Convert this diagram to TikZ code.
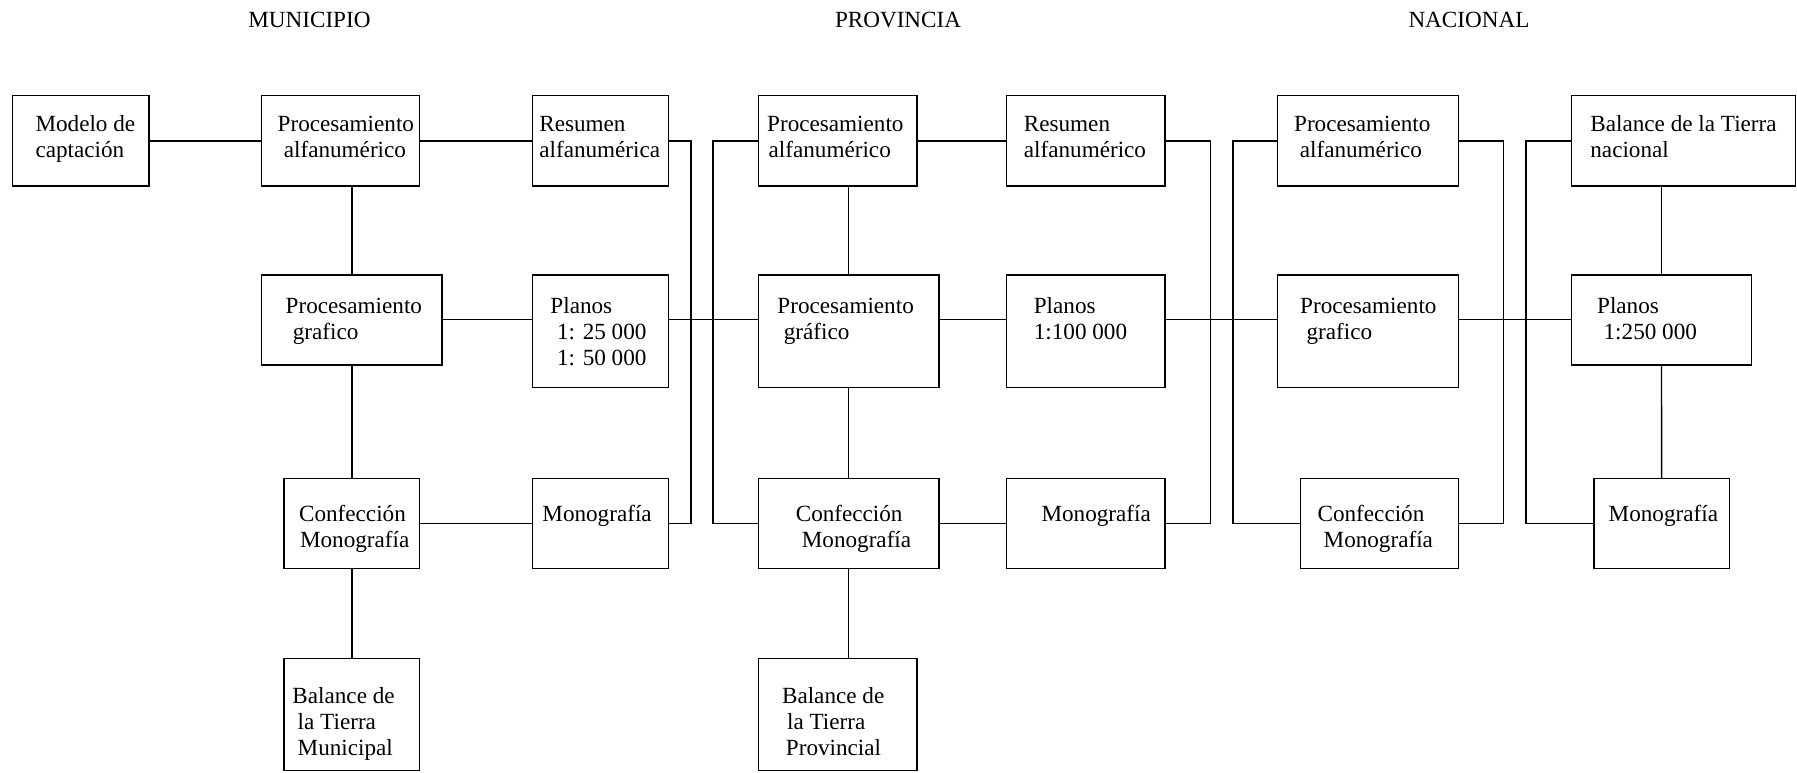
\documentclass[tikz,border=0pt]{standalone}
\usepackage{fontspec}
\setmainfont{Liberation Serif}
\newdimen\px \px=0.5669pt
\newcommand\bt[1]{\begin{tabular}[t]{@{}l@{}}#1\end{tabular}}
\newcommand\ind[1]{\hspace*{#1\px}}
\tikzset{
  box/.style={draw, line width=0.7pt, rectangle, inner sep=0pt, outer sep=0pt, anchor=north west},
  txt/.style={anchor=base west, inner sep=0pt, outer sep=0pt, font=\fontsize{11.5}{13.04}\selectfont},
  ln/.style={line width=0.7pt},
}
\newcommand\bx[5]{\node[box, minimum width={(#4-#2)*0.02cm}, minimum height={(#5-#3)*0.02cm}] (#1) at (#2,#3) {};}
\begin{document}
\begin{tikzpicture}[x=0.02cm, y=-0.02cm]
\useasboundingbox (0,0) rectangle (1568,674);
% titles
\node[txt] (tM) at (216.7,24.4) {MUNICIPIO};
\node[txt] (tP) at (728.6,24.4) {PROVINCIA};
\node[txt] (tN) at (1229,24.4) {NACIONAL};
% boxes row 1
\bx{mod}{11}{83.5}{130}{162.3}
\bx{pamM}{228.3}{83.5}{366.2}{162.3}
\bx{resM}{464.7}{83.5}{583.2}{162.3}
\bx{papP}{661.7}{83.5}{800}{162.3}
\bx{resP}{878}{83.5}{1016.6}{162.3}
\bx{panN}{1114.9}{83.5}{1272.7}{162.3}
\bx{balN}{1371}{83.5}{1566.8}{162.3}
% row 2
\bx{pgM}{228.3}{240}{385.7}{318.5}
\bx{plM}{464.7}{240}{583.2}{338}
\bx{pgP}{661.7}{240}{819.3}{338}
\bx{plP}{878}{240}{1016.6}{338}
\bx{pgN}{1114.9}{240}{1272.7}{338}
\bx{plN}{1371}{240}{1528.5}{318.5}
% row 3
\bx{cmM}{247.8}{417.4}{366.2}{496}
\bx{monM}{464.7}{417.4}{583.2}{496}
\bx{cmP}{661.7}{417.4}{819.3}{496}
\bx{monP}{878}{417.4}{1016.6}{496}
\bx{cmN}{1134.5}{417.4}{1272.7}{496}
\bx{monN}{1390.7}{417.4}{1509}{496}
% row 4
\bx{balM}{247.8}{574.8}{366.2}{672.5}
\bx{balP}{661.7}{574.8}{800}{672.5}
% texts
\node[txt] (x-mod) at (31,114.3) {\bt{Modelo de\\captación}};
\node[txt] (x-pamM) at (242.3,114.3) {\bt{Procesamiento\\\ind{5.4}alfanumérico}};
\node[txt] (x-resM) at (470.6,114.3) {\bt{Resumen\\alfanumérica}};
\node[txt] (x-papP) at (669.4,114.3) {\bt{Procesamiento\\\ind{1.3}alfanumérico}};
\node[txt] (x-resP) at (893.4,114.3) {\bt{Resumen\\alfanumérico}};
\node[txt] (x-panN) at (1129.2,114.3) {\bt{Procesamiento\\\ind{5}alfanumérico}};
\node[txt] (x-balN) at (1387.7,114.3) {\bt{Balance de la Tierra\\nacional}};
\node[txt] (x-pgM) at (249.3,273.4) {\bt{Procesamiento\\\ind{6.3}grafico}};
\node[txt] (x-plM) at (480.3,273.4) {\bt{Planos\\\ind{5.8}1: 25 000\\\ind{5.8}1: 50 000}};
\node[txt] (x-pgP) at (678.4,273.4) {\bt{Procesamiento\\\ind{5.6}gráfico}};
\node[txt] (x-plP) at (902.1,273.4) {\bt{Planos\\1:100 000}};
\node[txt] (x-pgN) at (1134.5,273.4) {\bt{Procesamiento\\\ind{5.6}grafico}};
\node[txt] (x-plN) at (1393.6,273.4) {\bt{Planos\\\ind{5.7}1:250 000}};
\node[txt] (x-cmM) at (261,455.2) {\bt{Confección\\\ind{0.8}Monografía}};
\node[txt] (x-monM) at (473.3,455.2) {Monografía};
\node[txt] (x-cmP) at (694.4,455.2) {\bt{Confección\\\ind{5.3}Monografía}};
\node[txt] (x-monP) at (908.8,455.2) {Monografía};
\node[txt] (x-cmN) at (1149.7,455.2) {\bt{Confección\\\ind{5.3}Monografía}};
\node[txt] (x-monN) at (1403.7,455.2) {Monografía};
\node[txt] (x-balM) at (255.2,613.7) {\bt{Balance de\\\ind{4.6}la Tierra\\\ind{4.6}Municipal}};
\node[txt] (x-balP) at (682.4,613.7) {\bt{Balance de\\\ind{4.4}la Tierra\\\ind{3.4}Provincial}};
% helper coordinates
\coordinate (r2) at (0,279);
\coordinate (bM) at (603,0);
\coordinate (cP) at (622,0);
\coordinate (bP) at (1056,0);
\coordinate (cN) at (1076,0);
\coordinate (bN) at (1312,0);
\coordinate (cN2) at (1331.5,0);
% municipio connectors
\draw[ln] (mod.east) -- (pamM.west);
\draw[ln] (pamM.east) -- (resM.west);
\draw[ln] (pgM.north) -- (pgM.north |- pamM.south);
\draw[ln] (pgM.south) -- (cmM.north);
\draw[ln] (cmM.south) -- (balM.north);
\draw[ln] (pgM.east |- r2) -- (plM.west |- r2);
\draw[ln] (cmM.east) -- (monM.west);
\draw[ln] (resM.east) -- (resM.east -| bM) -- (monM.east -| bM) -- (monM.east);
% municipio -> provincia
\draw[ln] (plM.east |- r2) -- (pgP.west |- r2);
\draw[ln] (papP.west) -- (papP.west -| cP) -- (cmP.west -| cP) -- (cmP.west);
% provincia connectors
\draw[ln] (pgP.north) -- (pgP.north |- papP.south);
\draw[ln] (pgP.south) -- (cmP.north);
\draw[ln] (cmP.south) -- (cmP.south |- balP.north);
\draw[ln] (papP.east) -- (resP.west);
\draw[ln] (pgP.east |- r2) -- (plP.west |- r2);
\draw[ln] (cmP.east) -- (monP.west);
\draw[ln] (resP.east) -- (resP.east -| bP) -- (monP.east -| bP) -- (monP.east);
% provincia -> nacional
\draw[ln] (plP.east |- r2) -- (pgN.west |- r2);
\draw[ln] (panN.west) -- (panN.west -| cN) -- (cmN.west -| cN) -- (cmN.west);
% nacional connectors
\draw[ln] (panN.east) -- (panN.east -| bN) -- (cmN.east -| bN) -- (cmN.east);
\draw[ln] (pgN.east |- r2) -- (plN.west |- r2);
\draw[ln] (balN.west) -- (balN.west -| cN2) -- (monN.west -| cN2) -- (monN.west);
\draw[ln] (plN.north) -- (plN.north |- balN.south);
\draw[ln] (plN.south) -- (monN.north);
\end{tikzpicture}
\end{document}
